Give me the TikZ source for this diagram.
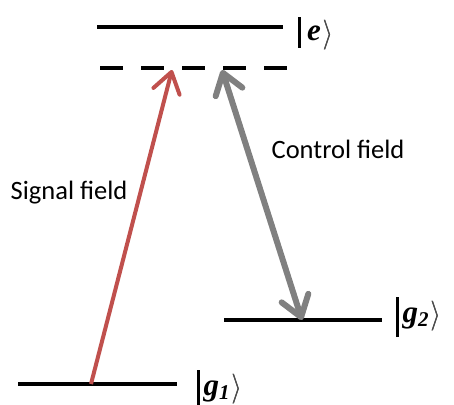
\documentclass[tikz,border=0pt]{standalone}
\usepackage{fontspec}
\setmainfont{Carlito}
\newfontfamily\ketbi{Liberation Serif}[UprightFont=*/BI]
\usetikzlibrary{arrows.meta}
\definecolor{sigred}{HTML}{C0504D}
\definecolor{ctrlgray}{HTML}{808080}
\newcommand{\ketsub}[1]{\raisebox{-0.35ex}{\fontsize{21}{21}\selectfont\ketbi #1}}
\newcommand{\boldang}[2]{\rlap{$\left.\rule[-#2]{0pt}{#1}\right\rangle$}\hspace{0.7pt}$\left.\rule[-#2]{0pt}{#1}\right\rangle$}
% #1 total height, #2 depth, #3 gap, #4 content
\newcommand{\myket}[4]{\rule[-#2]{2.8pt}{#1}\hspace{#3}{\ketbi #4}\hspace{1pt}\boldang{#1}{#2}}
\begin{document}
\begin{tikzpicture}[x=1pt,y=-1pt,
  level/.style={line width=4pt},
  virt/.style={line width=4pt,dash pattern=on 23pt off 18pt},
  ketlabel/.style={anchor=base west,inner sep=0pt,font=\ketbi\fontsize{31}{33}\selectfont},
  fieldlabel/.style={inner sep=0pt,font=\fontsize{26.5}{28}\selectfont},
  sigarrow/.style={draw=sigred,line width=4pt,-{Straight Barb[length=20pt,width=27pt,line width=4pt,round]}},
  ctrlarrow/.style={draw=ctrlgray,line width=6pt,{Straight Barb[length=20pt,width=28pt,line width=6pt,round]}-{Straight Barb[length=20pt,width=28pt,line width=6pt,round]}}]
\useasboundingbox (0,0) rectangle (454,404);
% levels
\coordinate (eL) at (97,27); \coordinate (eR) at (283,27);
\coordinate (vL) at (100,68); \coordinate (vR) at (287,68);
\coordinate (g2L) at (224,320); \coordinate (g2R) at (382,320);
\coordinate (g1L) at (18,384); \coordinate (g1R) at (177,384);
\draw[level] (eL) -- (eR);
\draw[virt] (vL) -- (vR);
\draw[level] (g2L) -- (g2R);
\draw[level] (g1L) -- (g1R);
% labels
\node[ketlabel] (ke) at (298,41) {\myket{31pt}{7pt}{6pt}{e}};
\node[ketlabel] (kg2) at (396,322) {\myket{40pt}{15pt}{3.5pt}{g\ketsub{2}}};
\node[ketlabel] (kg1) at (197,395) {\myket{40pt}{15pt}{3.5pt}{g\ketsub{1}}};
\node[fieldlabel] (sig) at (69,193) {Signal field};
\node[fieldlabel] (ctl) at (338,149) {Control field};
% arrows
\coordinate (sigS) at (91,384); \coordinate (sigT) at (172,70);
\coordinate (ctlT) at (222,70); \coordinate (ctlB) at (302,320);
\draw[sigarrow] (sigS) -- (sigT);
\draw[ctrlarrow] (ctlT) -- (ctlB);
\end{tikzpicture}
\end{document}
